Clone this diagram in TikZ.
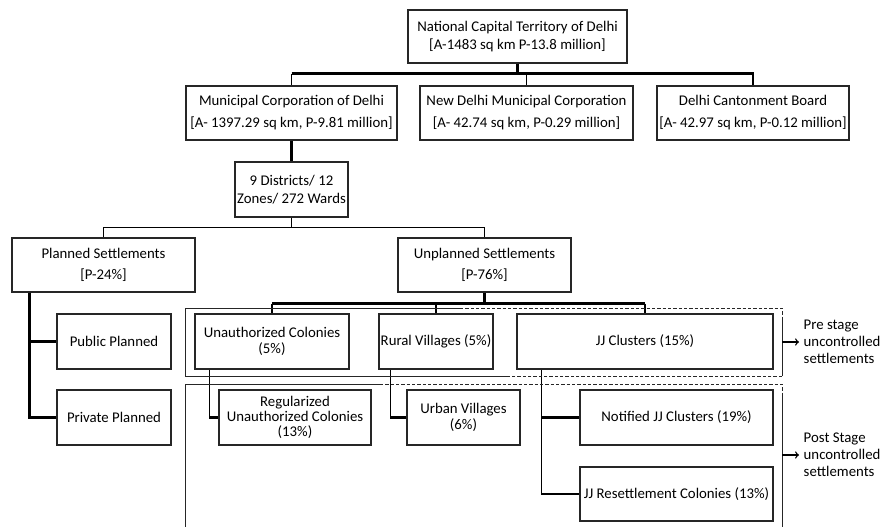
\documentclass[tikz,border=0pt]{standalone}
\usepackage{fontspec}
\setmainfont{Carlito}
\begin{document}
\begin{tikzpicture}[x=0.75pt, y=-0.75pt,
	font=\fontsize{11.1}{11.5}\selectfont,
	box/.style={draw=black!85, line width=0.8pt, inner sep=0pt, align=center},
	sz/.style 2 args={minimum width=#1*0.75pt, minimum height=#2*0.75pt},
	conn/.style={line width=1.6pt},
	thinconn/.style={line width=1pt},
	grp/.style={draw=black!85, line width=0.75pt},
	grpdash/.style={grp, line width=0.65pt, dash pattern=on 2.5pt off 1.5pt}]
		\useasboundingbox (0,0) rectangle (885,527);
		\node[box, sz={219}{53}] (nct) at (517.5,36.5) {National Capital Territory of Delhi\\[2pt][A-1483 sq km P-13.8 million]};
		\node[box, sz={211}{54}] (mcd) at (291.5,113) {Municipal Corporation of Delhi\\[5pt][A- 1397.29 sq km, P-9.81 million]};
		\node[box, sz={213}{54}] (ndmc) at (526.5,113) {New Delhi Municipal Corporation\\[5pt][A- 42.74 sq km, P-0.29 million]};
		\node[box, sz={192}{54}] (dcb) at (753,113) {Delhi Cantonment Board\\[5pt][A- 42.97 sq km, P-0.12 million]};
		\node[box, sz={113}{55}] (dist) at (291.5,189.5) {9 Districts/ 12\\[2pt]Zones/ 272 Wards};
		\node[box, sz={183}{54}] (plan) at (103.5,265) {Planned Settlements\\[4.5pt][P-24\%]};
		\node[box, sz={173}{54}] (unplan) at (484.5,265) {Unplanned Settlements\\[4.5pt][P-76\%]};
		\node[box, sz={114}{55}] (pub) at (114,341.5) {Public Planned};
		\node[box, sz={114}{55}] (priv) at (114,417.5) {Private Planned};
		\node[box, sz={154}{55}] (unauth) at (272,341.5) {Unauthorized Colonies\\(5\%)};
		\node[box, sz={114}{55}] (rural) at (436,341.5) {Rural Villages (5\%)};
		\node[box, sz={256}{55}] (jj) at (645,341.5) {JJ Clusters (15\%)};
		\node[box, sz={152}{55}] (reg) at (295,417.5) {Regularized\\Unauthorized Colonies\\(13\%)};
		\node[box, sz={113}{55}] (urban) at (463.5,417.5) {Urban Villages\\(6\%)};
		\node[box, sz={193}{55}] (notif) at (676.5,417.5) {Notified JJ Clusters (19\%)};
		\node[box, sz={193}{54}] (reset) at (676.5,494) {JJ Resettlement Colonies (13\%)};
		\node[align=left, anchor=west, font=\fontsize{11.1}{12.75}\selectfont] (prelbl) at (799,342) {Pre stage\\uncontrolled\\settlements};
		\node[align=left, anchor=west, font=\fontsize{11.1}{12.75}\selectfont] (postlbl) at (799,455) {Post Stage\\uncontrolled\\settlements};
		\coordinate (pre) at (782,342);
		\coordinate (post) at (782,455);
		\draw[conn] (nct.south) -- ++(0,10) coordinate (tb);
		\draw[conn] (mcd.north |- tb) -- (dcb.north |- tb) -- (dcb.north);
		\draw[thinconn] (mcd.north |- tb) -- (mcd.north);
		\draw[thinconn] (ndmc.north |- tb) -- (ndmc.north);
		\draw[conn] (mcd.south) -- (dist.north);
		\draw[thinconn] (dist.south) -- ++(0,10) -| (plan.north);
		\draw[thinconn] (dist.south) -- ++(0,10) -| (unplan.north);
		\draw[conn] (unplan.south) -- ++(0,11) coordinate (ub);
		\draw[conn] (unauth.north |- ub) -- (jj.north |- ub);
		\foreach \n in {unauth, rural, jj}{
		\draw[thinconn] (\n.north |- ub) -- (\n.north);}
		\foreach \n in {pub, priv}{
		\draw[conn] ([xshift=13.5pt]plan.south west) |- (\n.west);}
		\coordinate (ua) at ([xshift=11.25pt]unauth.south west);
		\coordinate (ra) at ([xshift=9pt]rural.south west);
		\coordinate (ja) at ([xshift=18.75pt]jj.south west);
		\draw[thinconn] (ua) |- (reg.west);
		\draw[conn] (ua |- reg.west) -- (reg.west);
		\draw[thinconn] (ra) |- (urban.west);
		\draw[conn] (ra |- urban.west) -- (urban.west);
		\draw[thinconn] (ja) -- (ja |- reset.west);
		\foreach \n in {notif, reset}{
		\draw[conn] (ja |- \n.west) -- (\n.west);}
		\draw[grp] (460,308) -- (185,308) -- (185,376) -- (510,376);
		\draw[grpdash] (460,308) -- (782,308) -- (782,320);
		\draw[grpdash] (782,376) -- (510,376);
		\draw[grp] (782,320) -- (782,376);
		\draw[grp] (380,384) -- (185,384) -- (185,527);
		\draw[grpdash] (380,384) -- (782,384) -- (782,396);
		\draw[grp] (782,396) -- (782,527);
		\draw[->, line width=1pt] (pre) -- (prelbl.west);
		\draw[->, line width=1pt] (post) -- (postlbl.west);
\end{tikzpicture}
\end{document}
